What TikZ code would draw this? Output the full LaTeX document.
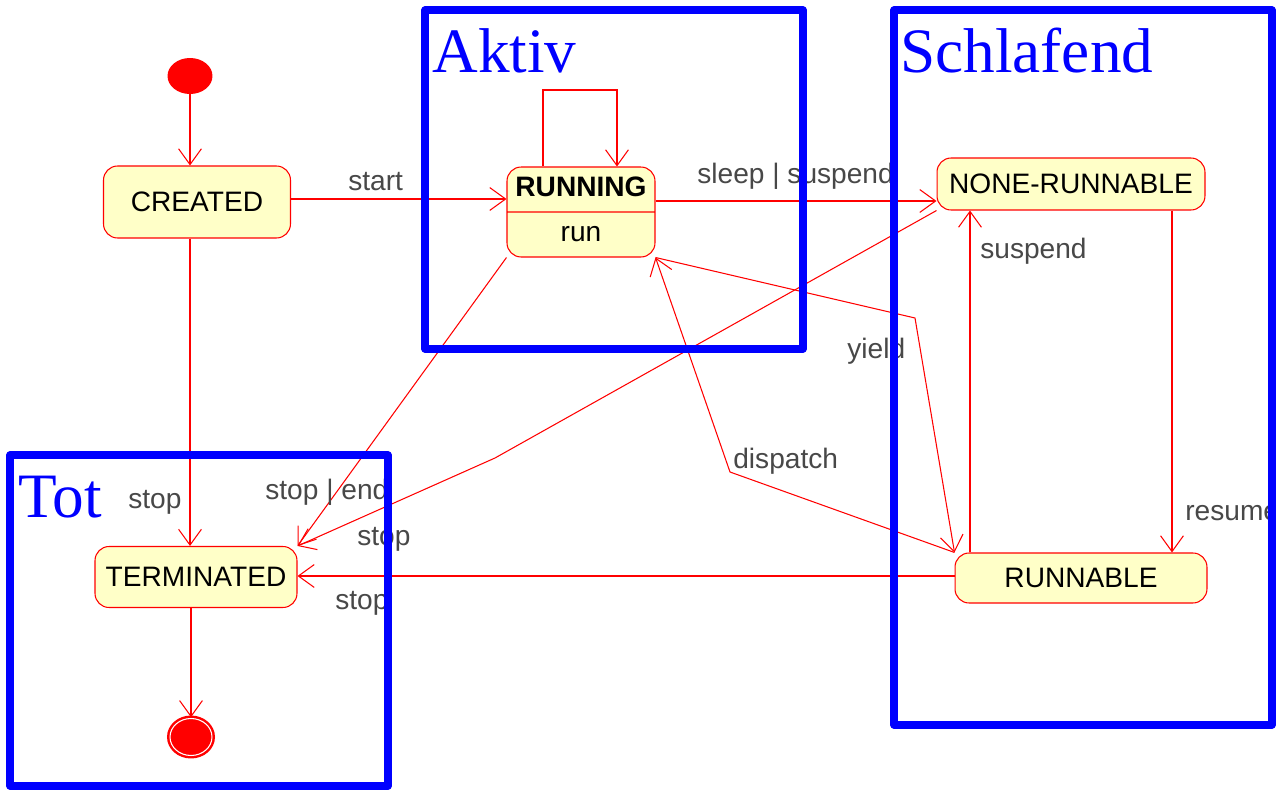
\documentclass[tikz,border=0pt]{standalone}
\usepackage{fontspec}
\setmainfont{Liberation Serif}
\setsansfont{Liberation Sans}
\usepackage{xcolor}
\usetikzlibrary{arrows.meta, shapes.multipart, shapes.geometric}

\definecolor{zustandgelb}{RGB}{255,255,200}
\definecolor{beschriftung}{RGB}{72,72,72}

\begin{document}
\begin{tikzpicture}[x=0.02cm, y=-0.02cm,
        >={Straight Barb[length=9pt,width=13pt]},
        zustand/.style={draw=red, fill=zustandgelb, rounded corners=8pt, line width=0.6pt,
            inner sep=0pt, font=\sffamily\fontsize{16}{19}\selectfont},
        uebergang/.style={draw=red, line width=0.6pt, ->},
        marke/.style={text=beschriftung, font=\sffamily\fontsize{16}{19}\selectfont,
            inner sep=0pt, anchor=west},
        bereich/.style={draw=blue, line width=4pt, line join=round},
        bereichname/.style={text=blue, font=\fontsize{36}{40}\selectfont,
            inner sep=0pt, anchor=base west}]

        % Hintergrund
        \fill[white] (0,0) rectangle (1276,791);
        \useasboundingbox (0,0) rectangle (1276,791);

        % --- Zustaende ---
        \node[ellipse, fill=red, minimum width=0.9cm, minimum height=0.72cm, inner sep=0pt] (anfang) at (190,76) {};
        \node[zustand, minimum width=3.74cm, minimum height=1.44cm] (created) at (197,202) {CREATED};
        \node[zustand, rectangle split, rectangle split parts=2, minimum width=2.96cm, inner ysep=3pt]
            (running) at (581,212) {\strut\textbf{RUNNING}\nodepart{two}\strut run};
        \node[zustand, minimum width=5.36cm, minimum height=1.04cm] (nr) at (1071,184) {NONE-RUNNABLE};
        \node[zustand, minimum width=5.04cm, minimum height=1.0cm] (rb) at (1081,578) {RUNNABLE};
        \node[zustand, minimum width=4.04cm, minimum height=1.22cm] (term) at (196,577) {TERMINATED};
        \node[ellipse, fill=red, draw=red, line width=1.4pt, double=white, double distance=0.6pt,
            minimum width=0.84cm, minimum height=0.74cm, inner sep=0pt] (ende) at (191,737) {};

        % --- Uebergaenge ---
        \draw[uebergang] (anfang) -- (anfang |- created.north);
        \draw[uebergang] (created.east |- 0,199) -- (running.west |- 0,199);
        \draw[uebergang] (543,0 |- running.north) -- (543,90) -| (617,0 |- running.north);
        \draw[uebergang] (running.east |- 0,201) -- (nr.west |- 0,201);
        \draw[uebergang] (1172,0 |- nr.south) -- (1172,0 |- rb.north);
        \draw[uebergang] (970,0 |- rb.north) -- (970,0 |- nr.south);
        \draw[uebergang] (running.south east) -- (915,318) -- (rb.north west);
        \draw[uebergang] (rb.north west) -- (730,472) -- (running.south east);
        \draw[uebergang] (nr.south west) -- (495,458) -- (term.north east);
        \draw[uebergang] (running.south west) -- (term.north east);
        \draw[uebergang] (rb.west |- 0,576) -- (term.east |- 0,576);
        \draw[uebergang] (190,0 |- created.south) -- (190,0 |- term.north);
        \draw[uebergang] (ende |- term.south) -- (ende.north);

        % Beschriftungen
        \node[marke] (lStart) at (348,182) {start};
        \node[marke] (lSchlaf) at (697,176) {sleep | suspend};
        \node[marke] (lSuspend) at (980,251) {suspend};
        \node[marke] (lResume) at (1185,513) {resume};
        \node[marke] (lYield) at (847,351) {yield};
        \node[marke] (lDispatch) at (733,461) {dispatch};
        \node[marke] (lStopA) at (128,502) {stop};
        \node[marke] (lStopEnd) at (265,492) {stop | end};
        \node[marke] (lStopB) at (357,539) {stop};
        \node[marke] (lStopC) at (335,603) {stop};

        % --- Bereiche ---
        \draw[bereich] (425,10) rectangle (803,349);
        \node[bereichname] (aktiv) at (432,72) {Aktiv};
        \draw[bereich] (894,10) rectangle (1272,725);
        \node[bereichname] (schlafend) at (900,72) {Schlafend};
        \draw[bereich] (10,455) rectangle (388,786);
        \node[bereichname] (tot) at (18,517) {Tot};

\end{tikzpicture}
\end{document}
